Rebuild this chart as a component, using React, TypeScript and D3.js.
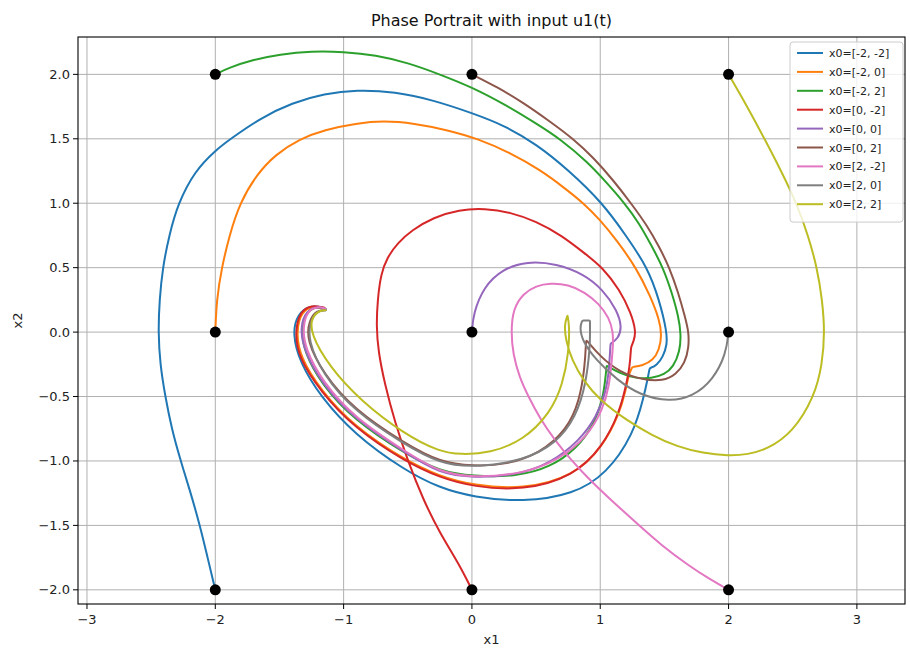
import React from "react";
import * as d3 from "d3";

// trajectories, one per initial state
// (a repeated point marks a sharp corner where the input switches)
const trajM2M2: [number, number][] = [
  [-2, -2], [-2.06, -1.75], [-2.12, -1.5], [-2.2, -1.22], [-2.27, -1.0], [-2.34, -0.75], [-2.39, -0.5],
  [-2.43, -0.25], [-2.445, 0], [-2.435, 0.25], [-2.41, 0.5], [-2.36, 0.75], [-2.29, 1.0], [-2.16, 1.25],
  [-2.0, 1.41], [-1.88, 1.5], [-1.65, 1.66], [-1.4, 1.78], [-1.15, 1.85], [-0.9, 1.88], [-0.6, 1.865],
  [-0.3, 1.8], [0, 1.7], [0.25, 1.605], [0.5, 1.46], [0.75, 1.26], [1.02, 1.0], [1.2, 0.75], [1.37, 0.5],
  [1.46, 0.25], [1.52, 0.0], [1.52, -0.1], [1.49, -0.19], [1.44, -0.26], [1.385, -0.28], [1.385, -0.28],
  [1.37, -0.36], [1.34, -0.5], [1.26, -0.79], [1.05, -1.1], [0.79, -1.26], [0.4, -1.32], [0.01, -1.28],
  [-0.25, -1.21], [-0.53, -1.07], [-0.92, -0.79], [-1.18, -0.5], [-1.34, -0.24], [-1.4, -0.01],
  [-1.36, 0.14], [-1.26, 0.21], [-1.16, 0.19],
];
const trajM20: [number, number][] = [
  [-2, 0], [-1.99, 0.25], [-1.95, 0.5], [-1.89, 0.75], [-1.81, 1.0], [-1.68, 1.22], [-1.53, 1.38],
  [-1.34, 1.5], [-1.15, 1.57], [-0.9, 1.62], [-0.69, 1.64], [-0.45, 1.62], [-0.2, 1.57], [0.05, 1.5],
  [0.3, 1.39], [0.53, 1.26], [0.72, 1.12], [0.87, 1.0], [1.0, 0.87], [1.13, 0.71], [1.28, 0.5],
  [1.39, 0.28], [1.46, 0.1], [1.48, -0.02], [1.46, -0.14], [1.41, -0.22], [1.33, -0.26], [1.25, -0.27],
  [1.25, -0.27], [1.22, -0.33], [1.2, -0.45], [1.15, -0.63], [1.02, -0.89], [0.79, -1.12], [0.4, -1.22],
  [0.01, -1.19], [-0.25, -1.12], [-0.53, -0.99], [-0.92, -0.73], [-1.18, -0.45], [-1.34, -0.19],
  [-1.37, 0.0], [-1.33, 0.16], [-1.24, 0.2], [-1.15, 0.18],
];
const trajM22: [number, number][] = [
  [-2, 2], [-1.9, 2.05], [-1.7, 2.115], [-1.5, 2.155], [-1.25, 2.18], [-1.0, 2.175], [-0.75, 2.15],
  [-0.5, 2.09], [-0.25, 2.0], [0, 1.9], [0.25, 1.77], [0.5, 1.62], [0.7, 1.49], [0.9, 1.32], [1.05, 1.16],
  [1.19, 1.0], [1.3, 0.85], [1.4, 0.67], [1.49, 0.5], [1.56, 0.3], [1.61, 0.12], [1.63, -0.02],
  [1.62, -0.15], [1.57, -0.27], [1.5, -0.33], [1.4, -0.36], [1.28, -0.36], [1.15, -0.32], [1.05, -0.26],
  [1.05, -0.26], [1.04, -0.36], [1.02, -0.52], [0.95, -0.72], [0.82, -0.9], [0.61, -1.05], [0.35, -1.12],
  [0.01, -1.12], [-0.25, -1.08], [-0.53, -0.94], [-0.92, -0.68], [-1.17, -0.41], [-1.31, -0.15],
  [-1.33, 0.03], [-1.29, 0.16], [-1.2, 0.2], [-1.14, 0.18],
];
const traj0M2: [number, number][] = [
  [0, -2], [-0.1, -1.8], [-0.25, -1.56], [-0.38, -1.3], [-0.5, -1.0], [-0.6, -0.7], [-0.68, -0.4],
  [-0.73, -0.15], [-0.745, 0.05], [-0.735, 0.25], [-0.71, 0.45], [-0.66, 0.58], [-0.58, 0.69],
  [-0.47, 0.79], [-0.3, 0.89], [-0.1, 0.95], [0.1, 0.96], [0.3, 0.93], [0.5, 0.86], [0.7, 0.75],
  [0.88, 0.61], [1.02, 0.5], [1.15, 0.33], [1.24, 0.15], [1.28, 0.0], [1.26, -0.07], [1.24, -0.12],
  [1.24, -0.12], [1.23, -0.27], [1.2, -0.42], [1.15, -0.62], [1.02, -0.89], [0.79, -1.12], [0.4, -1.23],
  [0.01, -1.2], [-0.25, -1.13], [-0.53, -1.0], [-0.92, -0.74], [-1.18, -0.46], [-1.35, -0.2],
  [-1.38, 0.0], [-1.34, 0.16], [-1.25, 0.21], [-1.15, 0.19],
];
const traj00: [number, number][] = [
  [0, 0], [0.01, 0.14], [0.09, 0.35], [0.24, 0.49], [0.43, 0.55], [0.66, 0.53], [0.87, 0.45],
  [1.02, 0.33], [1.13, 0.17], [1.17, 0.04], [1.14, -0.05], [1.08, -0.09], [1.08, -0.09], [1.07, -0.27],
  [1.05, -0.45], [0.97, -0.66], [0.84, -0.84], [0.61, -1.02], [0.35, -1.11], [0.01, -1.13],
  [-0.25, -1.1], [-0.53, -0.93], [-0.92, -0.67], [-1.17, -0.4], [-1.31, -0.14], [-1.34, 0.04],
  [-1.29, 0.17], [-1.2, 0.2], [-1.14, 0.18],
];
const traj02: [number, number][] = [
  [0, 2], [0.2, 1.9], [0.4, 1.78], [0.6, 1.64], [0.79, 1.5], [0.95, 1.35], [1.1, 1.18], [1.24, 1.0],
  [1.37, 0.82], [1.46, 0.66], [1.54, 0.5], [1.61, 0.3], [1.66, 0.12], [1.69, 0.0], [1.69, -0.12],
  [1.66, -0.24], [1.59, -0.33], [1.49, -0.38], [1.33, -0.37], [1.15, -0.31], [1.0, -0.19], [0.89, -0.06],
  [0.89, -0.06], [0.88, -0.27], [0.84, -0.53], [0.74, -0.76], [0.53, -0.94], [0.27, -1.03], [0.01, -1.04],
  [-0.25, -1.01], [-0.53, -0.86], [-0.92, -0.6], [-1.16, -0.32], [-1.29, -0.06], [-1.27, 0.09],
  [-1.21, 0.17], [-1.14, 0.17],
];
const traj2M2: [number, number][] = [
  [2, -2], [1.85, -1.915], [1.7, -1.82], [1.47, -1.65], [1.28, -1.48], [1.08, -1.3], [0.92, -1.15],
  [0.77, -0.99], [0.64, -0.83], [0.53, -0.67], [0.44, -0.5], [0.37, -0.35], [0.32, -0.17], [0.305, 0.0],
  [0.32, 0.18], [0.4, 0.3], [0.5, 0.36], [0.61, 0.38], [0.75, 0.37], [0.88, 0.31], [0.99, 0.22],
  [1.07, 0.11], [1.1, 0.0], [1.1, -0.1], [1.09, -0.22], [1.07, -0.42], [1.02, -0.6], [0.9, -0.81],
  [0.68, -0.99], [0.4, -1.1], [0.01, -1.13], [-0.25, -1.09], [-0.53, -0.92], [-0.92, -0.66],
  [-1.16, -0.39], [-1.3, -0.13], [-1.32, 0.04], [-1.28, 0.17], [-1.2, 0.2], [-1.14, 0.18],
];
const traj20: [number, number][] = [
  [2, 0], [1.98, -0.17], [1.88, -0.37], [1.72, -0.5], [1.54, -0.54], [1.31, -0.49], [1.13, -0.37],
  [0.97, -0.22], [0.86, -0.07], [0.84, 0.04], [0.86, 0.09], [0.86, 0.09], [0.92, 0.09], [0.92, 0.09],
  [0.92, -0.01], [0.92, -0.11], [0.89, -0.4], [0.81, -0.66], [0.66, -0.86], [0.4, -1.0], [0.01, -1.05],
  [-0.25, -1.02], [-0.53, -0.87], [-0.92, -0.61], [-1.16, -0.33], [-1.28, -0.06], [-1.26, 0.09],
  [-1.2, 0.17], [-1.14, 0.17],
];
const traj22: [number, number][] = [
  [2, 2], [2.14, 1.76], [2.28, 1.5], [2.41, 1.25], [2.53, 1.0], [2.62, 0.75], [2.69, 0.5], [2.73, 0.25],
  [2.75, 0.0], [2.73, -0.25], [2.67, -0.5], [2.5, -0.78], [2.3, -0.91], [2.15, -0.95], [2.0, -0.96],
  [1.8, -0.94], [1.6, -0.89], [1.4, -0.8], [1.2, -0.68], [1.0, -0.53], [0.87, -0.38], [0.78, -0.22],
  [0.73, -0.06], [0.72, 0.06], [0.745, 0.13], [0.745, 0.13], [0.76, 0.05], [0.755, -0.15], [0.71, -0.4],
  [0.61, -0.63], [0.4, -0.84], [0.14, -0.94], [-0.09, -0.95], [-0.25, -0.93], [-0.53, -0.79],
  [-0.87, -0.53], [-1.11, -0.27], [-1.26, -0.01], [-1.25, 0.12], [-1.18, 0.17], [-1.14, 0.17],
];

const trajectories = [trajM2M2, trajM20, trajM22, traj0M2, traj00, traj02, traj2M2, traj20, traj22];
const labels = [
  "x0=[-2, -2]", "x0=[-2, 0]", "x0=[-2, 2]", "x0=[0, -2]", "x0=[0, 0]",
  "x0=[0, 2]", "x0=[2, -2]", "x0=[2, 0]", "x0=[2, 2]",
];
const startPoints: [number, number][] = [
  [-2, -2], [-2, 0], [-2, 2], [0, -2], [0, 0], [0, 2], [2, -2], [2, 0], [2, 2],
];
const xTicks = [-3, -2, -1, 0, 1, 2, 3];
const yTicks = [-2, -1.5, -1, -0.5, 0, 0.5, 1, 1.5, 2];

const colors = d3.schemeCategory10;
const W = 910, H = 649;
const left = 78, right = 905, top = 37, bottom = 604;
const font = "DejaVu Sans, sans-serif";

export default function App() {
  const x = d3.scaleLinear().domain([-3.07, 3.375]).range([left, right]);
  const y = d3.scaleLinear().domain([-2.11, 2.29]).range([bottom, top]);
  const line = d3.line<[number, number]>()
    .x(d => x(d[0]))
    .y(d => y(d[1]))
    .curve(d3.curveBasis);
  const fy = d3.format(".1f");

  const legX = 790, legY = 42, legW = 113, legRow = 18.9;

  return (
    <svg width={W} height={H} style={{ position: "absolute", left: 0, top: 0, background: "#fff" }}>
      <defs>
        <clipPath id="plot">
          <rect x={left} y={top} width={right - left} height={bottom - top} />
        </clipPath>
      </defs>
      <rect x={0} y={0} width={W} height={H} fill="#fff" />

      {/* grid */}
      <g stroke="#b0b0b0" strokeWidth={1}>
        {xTicks.map(t => <line key={"gx" + t} x1={x(t)} x2={x(t)} y1={top} y2={bottom} />)}
        {yTicks.map(t => <line key={"gy" + t} x1={left} x2={right} y1={y(t)} y2={y(t)} />)}
      </g>

      <g clipPath="url(#plot)" fill="none" strokeWidth={2}>
        {trajectories.map((tr, i) => (
          <path key={i} d={line(tr) || ""} stroke={colors[i]} strokeLinejoin="round" strokeLinecap="round" />
        ))}
      </g>

      <g fill="#000">
        {startPoints.map((p, i) => <circle key={i} cx={x(p[0])} cy={y(p[1])} r={5.5} />)}
      </g>

      {/* frame */}
      <rect x={left} y={top} width={right - left} height={bottom - top} fill="none" stroke="#000" strokeWidth={1.1} />

      {/* axes */}
      <g fontFamily={font} fontSize={13} fill="#222">
        {xTicks.map(t => (
          <g key={"xt" + t}>
            <line x1={x(t)} x2={x(t)} y1={bottom} y2={bottom + 5} stroke="#000" />
            <text x={x(t)} y={bottom + 20} textAnchor="middle">{d3.format("d")(t)}</text>
          </g>
        ))}
        {yTicks.map(t => (
          <g key={"yt" + t}>
            <line x1={left - 5} x2={left} y1={y(t)} y2={y(t)} stroke="#000" />
            <text x={left - 8} y={y(t) + 4.5} textAnchor="end">{fy(t)}</text>
          </g>
        ))}
        <text x={(left + right) / 2} y={644} textAnchor="middle">x1</text>
        <text transform={`translate(22, ${(top + bottom) / 2}) rotate(-90)`} textAnchor="middle">x2</text>
      </g>

      <text x={(left + right) / 2} y={26} textAnchor="middle" fontFamily={font} fontSize={16} fill="#111">
        Phase Portrait with input u1(t)
      </text>

      {/* legend */}
      <g fontFamily={font} fontSize={11} fill="#222">
        <rect x={legX} y={legY} width={legW} height={legRow * 9 + 10} rx={3}
          fill="#fff" fillOpacity={0.8} stroke="#ccc" />
        {labels.map((lab, i) => (
          <g key={lab} transform={`translate(${legX}, ${legY + 11 + i * legRow})`}>
            <line x1={7} x2={33} y1={0} y2={0} stroke={colors[i]} strokeWidth={2} />
            <text x={39} y={4}>{lab}</text>
          </g>
        ))}
      </g>
    </svg>
  );
}
